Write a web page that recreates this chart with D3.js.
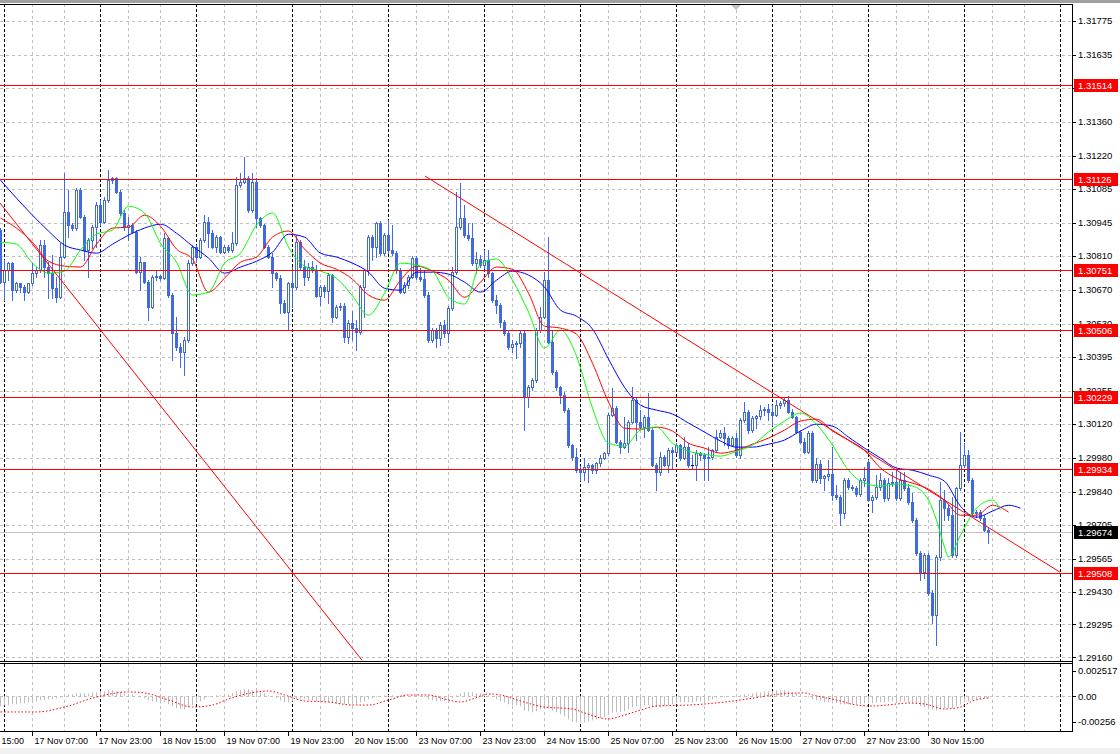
<!DOCTYPE html>
<html><head><meta charset="utf-8">
<script src="https://cdn.jsdelivr.net/npm/d3@7"></script>
<style>html,body{margin:0;padding:0;background:#fff;overflow:hidden}</style>
</head><body><svg id="c" width="1120" height="754"></svg>
<script>
// ---------- DATA (H1 bars indexed in trading hours from 17 Nov 00:00) ----------
const firstBar = -1;
const opens = [
1.30916,1.30702,1.30751,1.30780,1.30669,1.30698,1.30682,1.30661,
1.30698,1.30739,1.30751,1.30854,1.30764,1.30739,1.30677,1.30640,
1.30805,1.30990,1.30936,1.30924,1.31080,1.30969,1.30834,1.30875,
1.30928,1.31019,1.30949,1.31039,1.31121,1.31129,1.31072,1.30986,
1.30928,1.30936,1.30908,1.30743,1.30784,1.30702,1.30599,1.30722,
1.30727,1.30718,1.30883,1.30649,1.30493,1.30435,1.30414,1.30464,
1.30780,1.30846,1.30805,1.30875,1.30949,1.30903,1.30846,1.30887,
1.30825,1.30846,1.30834,1.30862,1.31101,1.31113,1.31129,1.30998,
1.31113,1.30965,1.30936,1.30846,1.30805,1.30739,1.30718,1.30616,
1.30579,1.30698,1.30682,1.30866,1.30764,1.30722,1.30764,1.30751,
1.30645,1.30682,1.30665,1.30731,1.30558,1.30599,1.30603,1.30476,
1.30534,1.30513,1.30497,1.30682,1.30751,1.30887,1.30846,1.30944,
1.30821,1.30895,1.30834,1.30821,1.30751,1.30661,1.30690,1.30722,
1.30801,1.30722,1.30714,1.30649,1.30464,1.30505,1.30472,1.30525,
1.30493,1.30595,1.30743,1.30928,1.30965,1.30895,1.30883,1.30780,
1.30797,1.30772,1.30792,1.30739,1.30628,1.30607,1.30538,1.30493,
1.30435,1.30447,1.30451,1.30493,1.30229,1.30270,1.30299,1.30505,
1.30558,1.30710,1.30455,1.30332,1.30270,1.30238,1.30176,1.30032,
1.29983,1.29929,1.29921,1.29942,1.29950,1.29929,1.29958,1.29979,
1.29999,1.30155,1.30184,1.30045,1.30024,1.30040,1.30127,1.30217,
1.30127,1.30106,1.30147,1.30094,1.29950,1.29921,1.29983,1.29950,
1.30011,1.30003,1.30032,1.29979,1.30024,1.29950,1.29950,1.29999,
1.29991,1.29979,1.29983,1.30011,1.30065,1.30082,1.30061,1.30032,
1.30061,1.29991,1.30135,1.30168,1.30094,1.30143,1.30151,1.30176,
1.30180,1.30168,1.30155,1.30197,1.30205,1.30217,1.30168,1.30147,
1.30086,1.30045,1.30003,1.30082,1.29888,1.29954,1.29896,1.29905,
1.29913,1.29827,1.29818,1.29752,1.29888,1.29859,1.29855,1.29831,
1.29888,1.29962,1.29806,1.29818,1.29859,1.29888,1.29814,1.29876,
1.29880,1.29814,1.29888,1.29855,1.29798,1.29724,1.29588,1.29510,
1.29580,1.29424,1.29334,1.29572,1.29806,1.29773,1.29744,1.29580,
1.29855,1.29950,1.29991,1.29888,1.29752,1.29757,1.29732,1.29683];
const highs = [
1.30924,1.30792,1.30784,1.30784,1.30702,1.30698,1.30690,1.30698,
1.30780,1.30764,1.30875,1.30875,1.30784,1.30813,1.30722,1.30862,
1.31150,1.31080,1.30944,1.31088,1.31088,1.30977,1.30883,1.30936,
1.31031,1.31039,1.31051,1.31162,1.31134,1.31134,1.31080,1.30998,
1.30969,1.30944,1.30916,1.30805,1.30784,1.30710,1.30731,1.30751,
1.30731,1.30903,1.30887,1.30657,1.30558,1.30451,1.30476,1.30792,
1.30854,1.30854,1.30883,1.30977,1.30969,1.30916,1.30895,1.30891,
1.30854,1.30854,1.30908,1.31134,1.31150,1.31216,1.31138,1.31150,
1.31129,1.30969,1.30940,1.30854,1.30821,1.30743,1.30731,1.30628,
1.30702,1.30764,1.30895,1.30875,1.30792,1.30780,1.30788,1.30772,
1.30690,1.30690,1.30739,1.30735,1.30607,1.30616,1.30616,1.30546,
1.30583,1.30546,1.30690,1.30755,1.30895,1.30895,1.30949,1.30953,
1.30903,1.30957,1.30936,1.30829,1.30760,1.30702,1.30731,1.30809,
1.30809,1.30760,1.30751,1.30661,1.30513,1.30513,1.30538,1.30546,
1.30603,1.30764,1.31072,1.31109,1.31019,1.30944,1.30944,1.30825,
1.30813,1.30834,1.30834,1.30743,1.30649,1.30616,1.30546,1.30505,
1.30464,1.30460,1.30505,1.30501,1.30279,1.30307,1.30513,1.30599,
1.30743,1.30887,1.30505,1.30340,1.30275,1.30250,1.30184,1.30036,
1.30020,1.29946,1.29979,1.29958,1.29954,1.29962,1.29991,1.30003,
1.30164,1.30266,1.30192,1.30053,1.30147,1.30135,1.30270,1.30225,
1.30176,1.30155,1.30246,1.30102,1.29958,1.30003,1.29991,1.30020,
1.30024,1.30040,1.30036,1.30065,1.30040,1.29991,1.30011,1.30003,
1.29999,1.30024,1.30016,1.30094,1.30094,1.30106,1.30069,1.30069,
1.30082,1.30143,1.30209,1.30176,1.30151,1.30155,1.30197,1.30188,
1.30201,1.30197,1.30217,1.30213,1.30229,1.30234,1.30180,1.30151,
1.30090,1.30061,1.30090,1.30090,1.29979,1.29970,1.29909,1.29970,
1.30024,1.29868,1.29827,1.29896,1.29896,1.29868,1.29864,1.29896,
1.29942,1.29970,1.29827,1.29909,1.29917,1.29896,1.29896,1.29921,
1.29929,1.29921,1.29921,1.29872,1.29835,1.29732,1.29597,1.29588,
1.29588,1.29436,1.29580,1.29880,1.29847,1.29785,1.29818,1.29859,
1.30086,1.30040,1.30011,1.29896,1.29765,1.29765,1.29744,1.29691];
const lows = [
1.30698,1.30628,1.30710,1.30628,1.30661,1.30661,1.30628,1.30657,
1.30690,1.30722,1.30743,1.30722,1.30636,1.30636,1.30620,1.30636,
1.30801,1.30887,1.30916,1.30916,1.30965,1.30792,1.30722,1.30842,
1.30846,1.30936,1.30944,1.31031,1.31109,1.31068,1.30977,1.30916,
1.30875,1.30903,1.30739,1.30669,1.30698,1.30546,1.30595,1.30710,
1.30710,1.30714,1.30640,1.30381,1.30423,1.30353,1.30320,1.30455,
1.30772,1.30784,1.30801,1.30866,1.30846,1.30842,1.30825,1.30821,
1.30821,1.30825,1.30825,1.30854,1.31092,1.31109,1.30990,1.30990,
1.30928,1.30928,1.30842,1.30801,1.30682,1.30710,1.30575,1.30575,
1.30505,1.30599,1.30674,1.30751,1.30690,1.30710,1.30743,1.30640,
1.30607,1.30640,1.30616,1.30538,1.30554,1.30587,1.30455,1.30451,
1.30464,1.30423,1.30488,1.30558,1.30731,1.30792,1.30805,1.30813,
1.30813,1.30821,1.30813,1.30739,1.30657,1.30657,1.30677,1.30718,
1.30714,1.30706,1.30640,1.30455,1.30455,1.30435,1.30443,1.30476,
1.30455,1.30587,1.30735,1.30920,1.30887,1.30875,1.30772,1.30739,
1.30764,1.30760,1.30722,1.30620,1.30575,1.30517,1.30484,1.30427,
1.30414,1.30390,1.30435,1.30094,1.30188,1.30258,1.30291,1.30497,
1.30554,1.30451,1.30324,1.30258,1.30205,1.30168,1.30024,1.29970,
1.29921,1.29888,1.29888,1.29880,1.29917,1.29917,1.29946,1.29975,
1.29991,1.30151,1.30040,1.29999,1.30020,1.30003,1.30123,1.30053,
1.30102,1.30065,1.30090,1.29946,1.29847,1.29909,1.29946,1.29921,
1.29938,1.29999,1.29970,1.29975,1.29942,1.29938,1.29888,1.29970,
1.29888,1.29888,1.29975,1.30003,1.30061,1.30032,1.30020,1.30028,
1.29983,1.29979,1.30127,1.30082,1.30086,1.30102,1.30139,1.30155,
1.30135,1.30114,1.30151,1.30184,1.30192,1.30164,1.30143,1.30082,
1.30040,1.29999,1.29999,1.29880,1.29880,1.29876,1.29847,1.29888,
1.29806,1.29810,1.29703,1.29732,1.29851,1.29847,1.29822,1.29822,
1.29864,1.29802,1.29757,1.29810,1.29847,1.29802,1.29806,1.29864,
1.29806,1.29806,1.29847,1.29790,1.29716,1.29580,1.29477,1.29485,
1.29416,1.29301,1.29210,1.29559,1.29724,1.29724,1.29572,1.29572,
1.29847,1.29942,1.29880,1.29744,1.29736,1.29724,1.29679,1.29629];
const closes = [
1.30702,1.30751,1.30780,1.30669,1.30698,1.30682,1.30661,1.30698,
1.30739,1.30751,1.30854,1.30764,1.30739,1.30677,1.30640,1.30805,
1.30990,1.30936,1.30924,1.31080,1.30969,1.30834,1.30875,1.30928,
1.31019,1.30949,1.31039,1.31121,1.31129,1.31072,1.30986,1.30928,
1.30936,1.30908,1.30743,1.30784,1.30702,1.30599,1.30722,1.30727,
1.30718,1.30883,1.30649,1.30493,1.30435,1.30414,1.30464,1.30780,
1.30846,1.30805,1.30875,1.30949,1.30903,1.30846,1.30887,1.30825,
1.30846,1.30834,1.30862,1.31101,1.31113,1.31129,1.30998,1.31113,
1.30965,1.30936,1.30846,1.30805,1.30739,1.30718,1.30616,1.30579,
1.30698,1.30682,1.30866,1.30764,1.30722,1.30764,1.30751,1.30645,
1.30682,1.30665,1.30731,1.30558,1.30599,1.30603,1.30476,1.30534,
1.30513,1.30497,1.30682,1.30751,1.30887,1.30846,1.30944,1.30821,
1.30895,1.30834,1.30821,1.30751,1.30661,1.30690,1.30722,1.30801,
1.30722,1.30714,1.30649,1.30464,1.30505,1.30472,1.30525,1.30493,
1.30595,1.30743,1.30928,1.30965,1.30895,1.30883,1.30780,1.30797,
1.30772,1.30792,1.30739,1.30628,1.30607,1.30538,1.30493,1.30435,
1.30447,1.30451,1.30493,1.30229,1.30270,1.30299,1.30505,1.30558,
1.30710,1.30455,1.30332,1.30270,1.30238,1.30176,1.30032,1.29983,
1.29929,1.29921,1.29942,1.29950,1.29929,1.29958,1.29979,1.29999,
1.30155,1.30184,1.30045,1.30024,1.30040,1.30127,1.30217,1.30127,
1.30106,1.30147,1.30094,1.29950,1.29921,1.29983,1.29950,1.30011,
1.30003,1.30032,1.29979,1.30024,1.29950,1.29950,1.29999,1.29991,
1.29979,1.29983,1.30011,1.30065,1.30082,1.30061,1.30032,1.30061,
1.29991,1.30135,1.30168,1.30094,1.30143,1.30151,1.30176,1.30180,
1.30168,1.30155,1.30197,1.30205,1.30217,1.30168,1.30147,1.30086,
1.30045,1.30003,1.30082,1.29888,1.29954,1.29896,1.29905,1.29913,
1.29827,1.29818,1.29752,1.29888,1.29859,1.29855,1.29831,1.29888,
1.29896,1.29806,1.29818,1.29859,1.29888,1.29814,1.29876,1.29880,
1.29814,1.29888,1.29855,1.29798,1.29724,1.29588,1.29510,1.29580,
1.29424,1.29334,1.29572,1.29806,1.29773,1.29744,1.29580,1.29855,
1.29950,1.29991,1.29888,1.29752,1.29757,1.29732,1.29683,1.29674];

// Alligator lines [bar, price] (jaw blue, teeth red, lips green)
const jaw = [[-1,1.31121],[3,1.31047],[7,1.30977],[11,1.30912],[15,1.30854],[19,1.30834],[23,1.30821],[27,1.30858],[31,1.30895],[35,1.30924],[39,1.30940],[43,1.30903],[47,1.30850],[51,1.30801],[55,1.30739],[59,1.30764],[63,1.30788],[67,1.30825],[71,1.30899],[75,1.30887],[79,1.30821],[83,1.30805],[87,1.30780],[91,1.30743],[95,1.30677],[99,1.30669],[103,1.30743],[107,1.30743],[111,1.30735],[115,1.30702],[119,1.30661],[123,1.30710],[127,1.30747],[131,1.30731],[135,1.30682],[139,1.30587],[143,1.30562],[147,1.30509],[151,1.30386],[155,1.30270],[159,1.30197],[163,1.30176],[167,1.30160],[171,1.30123],[175,1.30086],[179,1.30049],[183,1.30024],[187,1.30024],[191,1.30036],[195,1.30053],[199,1.30090],[203,1.30118],[207,1.30110],[211,1.30065],[215,1.30020],[219,1.29979],[223,1.29938],[227,1.29929],[231,1.29909],[235,1.29884],[239,1.29781],[243,1.29736],[247,1.29761],[251,1.29785],[254,1.29773]];
const teeth = [[-1,1.30965],[3,1.30924],[7,1.30866],[11,1.30788],[15,1.30768],[19,1.30764],[23,1.30858],[27,1.30924],[31,1.30928],[35,1.30977],[39,1.30932],[43,1.30838],[47,1.30797],[51,1.30661],[55,1.30718],[59,1.30784],[63,1.30805],[67,1.30887],[71,1.30912],[75,1.30838],[79,1.30780],[83,1.30755],[87,1.30714],[91,1.30649],[95,1.30628],[99,1.30710],[103,1.30768],[107,1.30747],[111,1.30710],[115,1.30640],[119,1.30702],[123,1.30764],[127,1.30755],[131,1.30657],[135,1.30521],[139,1.30513],[143,1.30488],[147,1.30369],[151,1.30209],[155,1.30102],[159,1.30098],[163,1.30106],[167,1.30090],[171,1.30040],[175,1.30020],[179,1.29999],[183,1.30011],[187,1.30036],[191,1.30061],[195,1.30094],[199,1.30131],[203,1.30139],[207,1.30090],[211,1.30053],[215,1.30011],[219,1.29938],[223,1.29896],[227,1.29876],[231,1.29851],[235,1.29806],[239,1.29744],[243,1.29744],[247,1.29785],[251,1.29757]];
const lips = [[-1,1.30866],[3,1.30858],[7,1.30780],[11,1.30739],[15,1.30747],[19,1.30834],[23,1.30899],[27,1.30916],[31,1.31014],[35,1.30986],[39,1.30862],[43,1.30784],[47,1.30649],[51,1.30661],[55,1.30780],[59,1.30821],[63,1.30936],[67,1.30986],[71,1.30846],[75,1.30768],[79,1.30747],[83,1.30718],[87,1.30645],[91,1.30566],[95,1.30657],[99,1.30780],[103,1.30772],[107,1.30747],[111,1.30640],[115,1.30612],[119,1.30776],[123,1.30797],[127,1.30710],[131,1.30579],[135,1.30431],[139,1.30505],[143,1.30398],[147,1.30184],[151,1.30040],[155,1.30028],[159,1.30094],[163,1.30106],[167,1.30040],[171,1.30007],[175,1.29995],[179,1.29987],[183,1.30007],[187,1.30032],[191,1.30086],[195,1.30131],[199,1.30164],[203,1.30118],[207,1.30032],[211,1.29929],[215,1.29876],[219,1.29864],[223,1.29872],[227,1.29864],[231,1.29806],[233,1.29724],[235,1.29613],[236,1.29572],[239,1.29662],[243,1.29773],[247,1.29806],[249,1.29765]];

// horizontal levels, bid, trend lines
const levelLines = [1.31514,1.31126,1.30751,1.30506,1.30229,1.29934,1.29508];
const bidPrice = 1.29674;
const trendLines = [[[-1,1.31027],[89.5,1.29148]],[[105.25,1.31138],[264,1.29510]]];

// axes
const priceTicks = ["1.31775","1.31635","1.31500","1.31360","1.31220","1.31085","1.30945","1.30810","1.30670","1.30530","1.30395","1.30255","1.30120","1.29980","1.29840","1.29705","1.29565","1.29430","1.29295","1.29160"];
const timeLabelBars = [-9,7,23,39,55,71,87,103,119,135,151,167,183,199,215,231];
const timeLabels = ["16 Nov 15:00","17 Nov 07:00","17 Nov 23:00","18 Nov 15:00","19 Nov 07:00","19 Nov 23:00","20 Nov 15:00","23 Nov 07:00","23 Nov 23:00","24 Nov 15:00","25 Nov 07:00","25 Nov 23:00","26 Nov 15:00","27 Nov 07:00","27 Nov 23:00","30 Nov 15:00"];
const daySeparatorBars = [0,24,48,72,96,120,144,168,192,216,240,264];
const gridBars = [7,15,31,39,55,63,79,87,103,111,127,135,151,159,175,183,199,207,223,231,247,255];

// MACD sub-window
const macdHist = [
-0.0010,-0.0009,-0.0009,-0.0008,-0.0008,-0.0007,-0.0007,-0.0006,
-0.0006,-0.0005,-0.0004,-0.0004,-0.0003,-0.0003,-0.0002,-0.0001,
0.0001,0.0002,0.0002,0.0003,0.0003,0.0003,0.0003,0.0004,
0.0004,0.0005,0.0005,0.0006,0.0006,0.0005,0.0004,0.0003,
0.0002,0.0002,0.0000,-0.0001,-0.0002,-0.0004,-0.0005,-0.0006,
-0.0007,-0.0006,-0.0008,-0.0010,-0.0012,-0.0013,-0.0013,-0.0011,
-0.0009,-0.0007,-0.0005,-0.0003,-0.0001,0.0000,0.0001,0.0001,
0.0002,0.0002,0.0003,0.0005,0.0006,0.0007,0.0007,0.0006,
0.0005,0.0004,0.0003,0.0001,0.0000,-0.0002,-0.0004,-0.0006,
-0.0006,-0.0005,-0.0003,-0.0003,-0.0003,-0.0004,-0.0004,-0.0005,
-0.0005,-0.0005,-0.0006,-0.0007,-0.0007,-0.0008,-0.0008,-0.0008,
-0.0008,-0.0008,-0.0006,-0.0005,-0.0003,-0.0002,-0.0001,0.0000,
0.0001,0.0001,0.0001,0.0000,-0.0001,-0.0001,0.0000,0.0001,
0.0001,0.0000,-0.0001,-0.0003,-0.0004,-0.0005,-0.0005,-0.0005,
-0.0004,-0.0002,0.0001,0.0003,0.0004,0.0004,0.0004,0.0003,
0.0003,0.0002,0.0001,-0.0001,-0.0003,-0.0005,-0.0006,-0.0008,
-0.0009,-0.0009,-0.0010,-0.0014,-0.0015,-0.0016,-0.0015,-0.0013,
-0.0011,-0.0012,-0.0014,-0.0016,-0.0018,-0.0020,-0.0023,-0.0025,
-0.0026,-0.0026,-0.0026,-0.0025,-0.0024,-0.0023,-0.0022,-0.0021,
-0.0018,-0.0016,-0.0016,-0.0016,-0.0015,-0.0013,-0.0011,-0.0010,
-0.0010,-0.0009,-0.0009,-0.0010,-0.0011,-0.0011,-0.0010,-0.0009,
-0.0008,-0.0007,-0.0006,-0.0006,-0.0006,-0.0006,-0.0005,-0.0005,
-0.0004,-0.0004,-0.0003,-0.0002,-0.0001,-0.0001,0.0000,0.0000,
0.0000,0.0001,0.0002,0.0002,0.0003,0.0004,0.0004,0.0005,
0.0005,0.0005,0.0006,0.0006,0.0006,0.0005,0.0004,0.0003,
0.0002,0.0000,-0.0001,-0.0003,-0.0004,-0.0005,-0.0006,-0.0006,
-0.0007,-0.0007,-0.0008,-0.0008,-0.0008,-0.0008,-0.0008,-0.0008,
-0.0007,-0.0007,-0.0007,-0.0006,-0.0006,-0.0006,-0.0005,-0.0005,
-0.0005,-0.0005,-0.0005,-0.0006,-0.0007,-0.0008,-0.0010,-0.0011,
-0.0012,-0.0013,-0.0014,-0.0013,-0.0012,-0.0012,-0.0012,-0.0010,
-0.0008,-0.0006,-0.0005,-0.0004,-0.0003,-0.0003,-0.0002,-0.0002];
const macdSignal = [[-1,-0.00156],[8,-0.00156],[15,-0.00107],[23,-0.00007],[31,0.00043],[35,0.00033],[41,-0.00037],[47,-0.00107],[52,-0.00087],[56,-0.00027],[63,0.00043],[66,0.00053],[70,0.00013],[75,-0.00047],[81,-0.00057],[87,-0.00087],[91,-0.00087],[96,-0.00037],[101,0.00013],[106,0.00013],[110,-0.00027],[114,-0.00057],[117,-0.00027],[121,0.00023],[124,0.00013],[129,-0.00047],[135,-0.00107],[142,-0.00126],[145,-0.00166],[151,-0.00226],[155,-0.00187],[159,-0.00137],[163,-0.00097],[171,-0.00087],[175,-0.00077],[180,-0.00057],[184,-0.00037],[189,-0.00007],[194,0.00023],[200,0.00033],[202,0.00013],[208,-0.00037],[213,-0.00087],[217,-0.00097],[223,-0.00077],[226,-0.00067],[230,-0.00077],[235,-0.00126],[239,-0.00107],[242,-0.00047],[246,-0.00017]];
const subTickValues = [0.002517,0,-0.00256];
const subTickLabels = ["0.002517","0.00","-0.00256"];

// ---------- DRAWING ----------
const svg = d3.select("#c");
const W = 1120, H = 754, R = 1072;
const mainTop = 4, mainBot = 661, subTop = 663, subBot = 731;
const BLUE = "#4169e1";
const FONT = "'Liberation Sans', Arial, sans-serif";

const x = d3.scaleLinear().domain([-1, 267]).range([0, 1072]);
const y = d3.scaleLinear().domain([1.29145, 1.31845]).range([mainBot, mainTop]);
const ys = d3.scaleLinear().domain([-0.00256, 0.002517]).range([722, 671]);

svg.append("rect").attr("width", W).attr("height", H).attr("fill", "#f0f0f0");
svg.append("rect").attr("x", 0).attr("y", 3).attr("width", W).attr("height", 745).attr("fill", "#fff");
svg.append("rect").attr("x", 0).attr("y", 0).attr("width", W).attr("height", 3).attr("fill", "#a0a0a0");

const defs = svg.append("defs");
defs.append("clipPath").attr("id", "cm").append("rect").attr("x", 0).attr("y", mainTop).attr("width", R).attr("height", mainBot - mainTop);
defs.append("clipPath").attr("id", "cs").append("rect").attr("x", 0).attr("y", subTop).attr("width", R).attr("height", subBot - subTop);

const gMain = svg.append("g").attr("clip-path", "url(#cm)");
const gSub = svg.append("g").attr("clip-path", "url(#cs)");
const px = v => Math.round(v) + 0.5;

// horizontal grid
gMain.selectAll("line.hg").data(priceTicks).join("line")
  .attr("x1", 0).attr("x2", R).attr("y1", d => px(y(+d))).attr("y2", d => px(y(+d)))
  .attr("stroke", "#c0c0c0").attr("stroke-dasharray", "3,3");
gSub.append("line").attr("x1", 0).attr("x2", R).attr("y1", px(ys(0))).attr("y2", px(ys(0)))
  .attr("stroke", "#c0c0c0").attr("stroke-dasharray", "3,3");

// vertical grid and day separators
[gMain, gSub].forEach(g => {
  g.selectAll("line.vg").data(gridBars).join("line")
    .attr("x1", d => px(x(d))).attr("x2", d => px(x(d))).attr("y1", mainTop).attr("y2", subBot)
    .attr("stroke", "#c0c0c0").attr("stroke-dasharray", "3,3");
  g.selectAll("line.ds").data(daySeparatorBars).join("line")
    .attr("class", "ds")
    .attr("x1", d => px(x(d))).attr("x2", d => px(x(d))).attr("y1", mainTop).attr("y2", subBot)
    .attr("stroke", "#000").attr("stroke-dasharray", "3,2");
});

// bid line
gMain.append("line").attr("x1", 0).attr("x2", R).attr("y1", px(y(bidPrice))).attr("y2", px(y(bidPrice)))
  .attr("stroke", "#c0c0c0");

// candles
const bars = d3.range(opens.length).map(k => ({i: firstBar + k, o: opens[k], h: highs[k], l: lows[k], c: closes[k]}));
const cg = gMain.append("g");
bars.forEach(b => {
  const cx = Math.round(x(b.i));
  cg.append("line").attr("x1", cx + 0.5).attr("x2", cx + 0.5)
    .attr("y1", Math.round(y(b.h))).attr("y2", Math.round(y(b.l)) + 1).attr("stroke", BLUE);
  const yo = Math.round(y(b.o)), yc = Math.round(y(b.c));
  const top = Math.min(yo, yc), bot = Math.max(yo, yc);
  if (b.c > b.o) {
    cg.append("rect").attr("x", cx - 0.5).attr("y", top + 0.5).attr("width", 2).attr("height", Math.max(bot - top, 1))
      .attr("fill", "#fff").attr("stroke", BLUE);
  } else if (b.c < b.o) {
    cg.append("rect").attr("x", cx - 1).attr("y", top).attr("width", 3).attr("height", Math.max(bot - top + 1, 1))
      .attr("fill", BLUE);
  } else {
    cg.append("line").attr("x1", cx - 1).attr("x2", cx + 2).attr("y1", top + 0.5).attr("y2", top + 0.5).attr("stroke", "#000");
  }
});

// alligator lines
const maLine = d3.line().x(d => x(d[0]) + 0.5).y(d => y(d[1])).curve(d3.curveMonotoneX);
[[jaw, "#0000ff"], [teeth, "#ff0000"], [lips, "#00ff00"]].forEach(([d, col]) => {
  gMain.append("path").attr("d", maLine(d)).attr("fill", "none").attr("stroke", col).attr("stroke-width", 1);
});

// levels and trend lines
gMain.selectAll("line.lv").data(levelLines).join("line")
  .attr("x1", 0).attr("x2", R).attr("y1", d => px(y(d))).attr("y2", d => px(y(d)))
  .attr("stroke", "#ff0000");
trendLines.forEach(t => {
  gMain.append("line").attr("x1", x(t[0][0])).attr("y1", y(t[0][1])).attr("x2", x(t[1][0])).attr("y2", y(t[1][1]))
    .attr("stroke", "#ff0000");
});

// MACD histogram + signal
gSub.selectAll("line.hb").data(macdHist).join("line")
  .attr("x1", (d, k) => px(x(firstBar + k))).attr("x2", (d, k) => px(x(firstBar + k)))
  .attr("y1", ys(0)).attr("y2", d => ys(d)).attr("stroke", "#bdbdbd");
const sigLine = d3.line().x(d => x(d[0]) + 0.5).y(d => ys(d[1])).curve(d3.curveMonotoneX);
gSub.append("path").attr("d", sigLine(macdSignal)).attr("fill", "none").attr("stroke", "#ff0000").attr("stroke-dasharray", "1.5,2");

// frames
const frame = svg.append("g").attr("stroke", "#000").attr("fill", "none");
frame.append("line").attr("x1", 0).attr("x2", R + 1).attr("y1", mainTop + 0.5).attr("y2", mainTop + 0.5);
frame.append("line").attr("x1", 0).attr("x2", R + 1).attr("y1", mainBot + 0.5).attr("y2", mainBot + 0.5);
frame.append("line").attr("x1", 0).attr("x2", R + 1).attr("y1", subTop + 0.5).attr("y2", subTop + 0.5);
frame.append("line").attr("x1", 0).attr("x2", R + 1).attr("y1", subBot + 0.5).attr("y2", subBot + 0.5);
frame.append("line").attr("x1", R + 0.5).attr("x2", R + 0.5).attr("y1", mainTop).attr("y2", subBot + 1);

// shift marker triangle
svg.append("path").attr("d", d3.line()([[731, 5], [741, 5], [736, 10]]) + "Z").attr("fill", "#c0c0c0");

// price axis
const pa = svg.append("g").attr("font-family", FONT).attr("font-size", 9.5);
pa.selectAll("line").data(priceTicks).join("line")
  .attr("x1", R).attr("x2", R + 4).attr("y1", d => px(y(+d))).attr("y2", d => px(y(+d))).attr("stroke", "#000");
pa.selectAll("text").data(priceTicks).join("text")
  .attr("x", R + 6).attr("y", d => y(+d)).attr("dy", "0.35em").attr("fill", "#000").text(d => d);

// level labels
const lab = svg.append("g").attr("font-family", FONT).attr("font-size", 9.5);
levelLines.forEach(v => {
  const yy = Math.round(y(v));
  lab.append("rect").attr("x", R + 2).attr("y", yy - 6).attr("width", 44).attr("height", 13).attr("fill", "#ff0000");
  lab.append("text").attr("x", R + 6).attr("y", yy + 0.5).attr("dy", "0.35em").attr("fill", "#fff").text(v.toFixed(5));
});
{
  const yy = Math.round(y(bidPrice));
  lab.append("rect").attr("x", R + 2).attr("y", yy - 6).attr("width", 44).attr("height", 13).attr("fill", "#000");
  lab.append("text").attr("x", R + 6).attr("y", yy + 0.5).attr("dy", "0.35em").attr("fill", "#fff").text(bidPrice.toFixed(5));
}

// sub axis
const sa = svg.append("g").attr("font-family", FONT).attr("font-size", 9.5);
subTickValues.forEach((v, k) => {
  sa.append("line").attr("x1", R).attr("x2", R + 4).attr("y1", px(ys(v))).attr("y2", px(ys(v))).attr("stroke", "#000");
  sa.append("text").attr("x", R + 6).attr("y", ys(v)).attr("dy", "0.35em").text(subTickLabels[k]);
});

// time axis
const ta = svg.append("g").attr("font-family", FONT).attr("font-size", 9);
timeLabelBars.forEach((b, k) => {
  const xx = px(x(b));
  ta.append("line").attr("x1", xx).attr("x2", xx).attr("y1", subBot + 1).attr("y2", subBot + 5).attr("stroke", "#000");
  ta.append("text").attr("x", xx + 2).attr("y", 744).text(timeLabels[k]);
});
</script></body></html>
